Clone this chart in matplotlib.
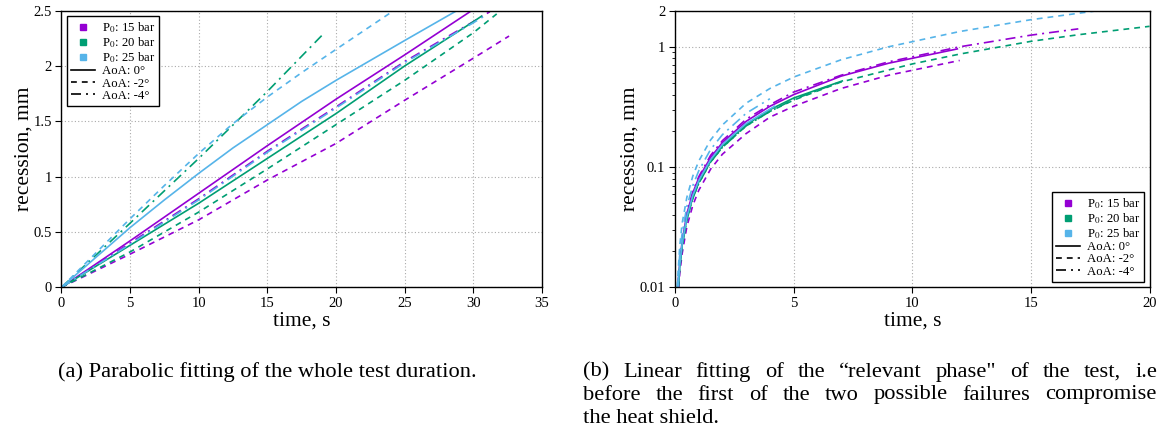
import matplotlib
matplotlib.use("Agg")
import matplotlib.pyplot as plt
from matplotlib.lines import Line2D
from matplotlib.ticker import FixedLocator, NullFormatter

plt.rcParams['font.family'] = ['Liberation Serif', 'DejaVu Serif']
plt.rcParams['mathtext.fontset'] = 'stix'

c15 = '#9400d3'
c20 = '#009e73'
c25 = '#56b4e9'

# (a) parabolic fit, whole test duration: time (s) and recession (mm)
t_a_15_0 = [0, 5, 10, 15, 20, 25, 30]
r_a_15_0 = [0, 0.42, 0.85, 1.28, 1.70, 2.10, 2.51]
t_a_15_2 = [0, 5, 10, 15, 20, 25, 30, 32.6]
r_a_15_2 = [0, 0.30, 0.61, 0.97, 1.30, 1.69, 2.07, 2.27]
t_a_15_4 = [0, 5, 10, 15, 20, 25, 30, 31.2]
r_a_15_4 = [0, 0.40, 0.80, 1.23, 1.63, 2.04, 2.40, 2.49]
t_a_20_0 = [0, 5, 10, 15, 20, 25, 30, 30.6]
r_a_20_0 = [0, 0.38, 0.76, 1.165, 1.57, 2.0, 2.40, 2.45]
t_a_20_2 = [0, 5, 10, 15, 20, 25, 30, 31.7]
r_a_20_2 = [0, 0.32, 0.68, 1.07, 1.47, 1.87, 2.30, 2.47]
t_a_20_4 = [0, 5, 10, 15, 19]
r_a_20_4 = [0, 0.58, 1.165, 1.77, 2.28]
t_a_25_0 = [0, 2.5, 5, 7.5, 10, 12.5, 15, 17.5, 20, 22.5, 25, 28.8]
r_a_25_0 = [0, 0.27, 0.54, 0.79, 1.03, 1.26, 1.47, 1.68, 1.87, 2.05, 2.23, 2.50]
t_a_25_2 = [0, 2.5, 5, 7.5, 10, 12.5, 15, 17.5, 20, 24.2]
r_a_25_2 = [0, 0.31, 0.62, 0.92, 1.21, 1.48, 1.72, 1.94, 2.15, 2.50]
t_a_25_4 = [0, 5, 10, 15, 20, 25, 30, 30.8]
r_a_25_4 = [0, 0.39, 0.79, 1.22, 1.62, 2.03, 2.39, 2.45]

# (b) linear fit, relevant phase
t_b_15_0 = [0.12, 0.2, 0.3, 0.5, 0.75, 1, 1.5, 2, 3, 4, 5, 7, 9, 11.9]
r_b_15_0 = [0.0097, 0.016, 0.024, 0.041, 0.061, 0.081, 0.12, 0.16, 0.24, 0.32, 0.40, 0.57, 0.73, 0.96]
t_b_15_2 = [0.16, 0.2, 0.3, 0.5, 0.75, 1, 1.5, 2, 3, 4, 5, 7, 9, 12]
r_b_15_2 = [0.010, 0.013, 0.019, 0.032, 0.048, 0.064, 0.096, 0.128, 0.19, 0.26, 0.32, 0.45, 0.58, 0.77]
t_b_15_4 = [0.12, 0.2, 0.3, 0.5, 0.75, 1, 1.5, 2, 3, 4, 5, 7, 9, 12, 15, 17]
r_b_15_4 = [0.010, 0.017, 0.025, 0.042, 0.062, 0.083, 0.125, 0.166, 0.25, 0.33, 0.42, 0.58, 0.75, 1.0, 1.25, 1.41]
t_b_20_0 = [0.14, 0.2, 0.3, 0.5, 0.75, 1, 1.5, 2, 3, 4, 5, 7.05]
r_b_20_0 = [0.0105, 0.015, 0.0225, 0.0375, 0.056, 0.075, 0.112, 0.15, 0.225, 0.30, 0.375, 0.52]
t_b_20_2 = [0.14, 0.2, 0.3, 0.5, 0.75, 1, 1.5, 2, 3, 4, 5, 7, 10, 12, 15, 17, 20]
r_b_20_2 = [0.010, 0.0146, 0.022, 0.0365, 0.055, 0.073, 0.11, 0.146, 0.22, 0.29, 0.36, 0.51, 0.72, 0.87, 1.11, 1.26, 1.48]
t_b_20_4 = [0.14, 0.2, 0.3, 0.5, 0.75, 1, 1.5, 2, 3, 4, 5, 6.9]
r_b_20_4 = [0.0102, 0.0146, 0.022, 0.0365, 0.055, 0.073, 0.11, 0.146, 0.22, 0.29, 0.365, 0.505]
t_b_25_0 = [0.13, 0.2, 0.3, 0.5, 0.75, 1, 1.5, 2, 3, 4.2]
r_b_25_0 = [0.010, 0.0154, 0.023, 0.0385, 0.058, 0.077, 0.115, 0.154, 0.23, 0.32]
t_b_25_2 = [0.09, 0.2, 0.3, 0.5, 0.75, 1, 1.5, 2, 3, 4, 5, 7, 9, 12, 15, 18]
r_b_25_2 = [0.010, 0.022, 0.034, 0.056, 0.084, 0.112, 0.168, 0.224, 0.34, 0.45, 0.56, 0.78, 1.0, 1.34, 1.68, 2.02]
t_b_25_4 = [0.11, 0.2, 0.3, 0.5, 0.75, 1, 1.5, 2, 3, 4]
r_b_25_4 = [0.010, 0.019, 0.028, 0.047, 0.070, 0.093, 0.14, 0.186, 0.28, 0.37]

pressure_labels = ['P$_0$: 15 bar', 'P$_0$: 20 bar', 'P$_0$: 25 bar']
aoa_labels = ['AoA: 0°', 'AoA: -2°', 'AoA: -4°']

cap_a = '(a) Parabolic fitting of the whole test duration.'
cap_b = ['(b) Linear fitting of the \u201crelevant phase" of the test, i.e',
         'before the first of the two possible failures compromise',
         'the heat shield.']

solid = '-'
dashed = (0, (3.5, 3))
dashdot = (0, (6, 3, 1.2, 3))
lw = 1.2

W, H = 1159, 436
fig = plt.figure(figsize=(W / 100, H / 100), dpi=100)
axa = fig.add_axes([61.5 / W, 1 - 287.3 / H, 480.5 / W, 276.7 / H])
axb = fig.add_axes([675 / W, 1 - 287.3 / H, 474.5 / W, 276.7 / H])

curves_a = [
    (t_a_15_0, r_a_15_0, c15, solid), (t_a_15_2, r_a_15_2, c15, dashed), (t_a_15_4, r_a_15_4, c15, dashdot),
    (t_a_20_0, r_a_20_0, c20, solid), (t_a_20_2, r_a_20_2, c20, dashed), (t_a_20_4, r_a_20_4, c20, dashdot),
    (t_a_25_0, r_a_25_0, c25, solid), (t_a_25_2, r_a_25_2, c25, dashed), (t_a_25_4, r_a_25_4, c25, dashdot),
]
curves_b = [
    (t_b_15_0, r_b_15_0, c15, solid), (t_b_15_2, r_b_15_2, c15, dashed), (t_b_15_4, r_b_15_4, c15, dashdot),
    (t_b_20_0, r_b_20_0, c20, solid), (t_b_20_2, r_b_20_2, c20, dashed), (t_b_20_4, r_b_20_4, c20, dashdot),
    (t_b_25_0, r_b_25_0, c25, solid), (t_b_25_2, r_b_25_2, c25, dashed), (t_b_25_4, r_b_25_4, c25, dashdot),
]

for t, r, c, ls in curves_a:
    axa.plot(t, r, color=c, linestyle=ls, lw=lw)
for t, r, c, ls in curves_b:
    axb.plot(t, r, color=c, linestyle=ls, lw=lw)

axa.set_xlim(0, 35)
axa.set_ylim(0, 2.5)
axa.set_xticks([0, 5, 10, 15, 20, 25, 30, 35])
axa.set_yticks([0, 0.5, 1, 1.5, 2, 2.5])
axa.set_yticklabels(['0', '0.5', '1', '1.5', '2', '2.5'])

axb.set_yscale('log')
axb.set_xlim(0, 20)
axb.set_ylim(0.01, 2)
axb.set_xticks([0, 5, 10, 15, 20])
axb.yaxis.set_major_locator(FixedLocator([0.01, 0.1, 1, 2]))
axb.set_yticklabels(['0.01', '0.1', '1', '2'])
axb.yaxis.set_minor_locator(FixedLocator([k * 10.0 ** e for e in (-2, -1, 0) for k in range(2, 10)]))
axb.yaxis.set_minor_formatter(NullFormatter())

handles = [Line2D([], [], color=c, marker='s', ms=5, linestyle='none') for c in (c15, c20, c25)]
handles += [Line2D([], [], color='black', lw=1.2, linestyle=ls) for ls in (solid, dashed, dashdot)]
labels = pressure_labels + aoa_labels

for ax, loc in ((axa, 'upper left'), (axb, 'lower right')):
    ax.grid(True, color='#aaaaaa', linestyle=(0, (1, 2)), lw=0.8)
    ax.tick_params(direction='out', length=4, width=0.8, labelsize=10.5, pad=3)
    ax.tick_params(which='minor', direction='out', length=2.5, width=0.6)
    for s in ax.spines.values():
        s.set_linewidth(1.0)
    ax.set_xlabel('time, s', fontsize=15.5, labelpad=1)
    ax.set_ylabel('recession, mm', fontsize=15.5, labelpad=0)
    leg = ax.legend(handles, labels, loc=loc, fontsize=9.2, frameon=True, fancybox=False,
                    edgecolor='black', framealpha=1, handlelength=1.9, handletextpad=0.5,
                    labelspacing=0.02, borderpad=0.3, borderaxespad=0.45)
    leg.get_frame().set_linewidth(1.0)

cap_size = 16.2
fig.text(58 / W, 1 - 372 / H, cap_a, fontsize=cap_size, va='center', ha='left')

# caption (b) is justified: spread the words of the first two lines over the column
fig.canvas.draw()
renderer = fig.canvas.get_renderer()
right_edges = [1157, 1156, None]
for i, line in enumerate(cap_b):
    y = 1 - (372 + 23 * i) / H
    words = line.split(' ')
    if right_edges[i] is None:
        fig.text(583 / W, y, line, fontsize=cap_size, va='center', ha='left')
        continue
    texts = [fig.text(0, y, w, fontsize=cap_size, va='center', ha='left') for w in words]
    widths = [tx.get_window_extent(renderer).width for tx in texts]
    gap = (right_edges[i] - 583 - sum(widths)) / (len(words) - 1)
    x = 583
    for tx, w in zip(texts, widths):
        tx.set_x(x / W)
        x += w + gap

fig.savefig('out.png', dpi=100)
